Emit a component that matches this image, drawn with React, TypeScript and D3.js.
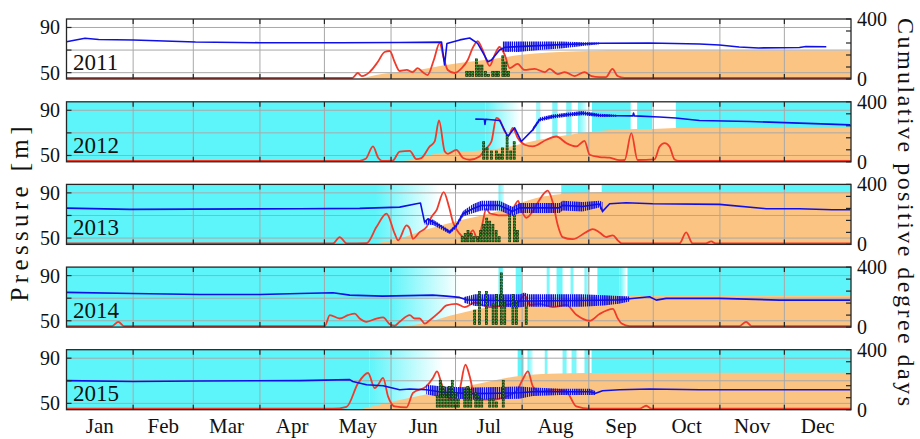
import React from 'react';
import * as d3 from 'd3';

// ---------- data ----------
const YEARS = ['2011', '2012', '2013', '2014', '2015'];
const MONTHS = ['Jan', 'Feb', 'Mar', 'Apr', 'May', 'Jun', 'Jul', 'Aug', 'Sep', 'Oct', 'Nov', 'Dec'];
const MONTH_START = [0, 31, 59, 90, 120, 151, 181, 212, 243, 273, 304, 334, 365];
const LEFT_TICKS = [50, 70, 90];
const LEFT_LABELS = [50, 90];
const RIGHT_TICKS = [0, 80, 160, 240, 320, 400];
const RIGHT_LABELS = [0, 400];

// pressure [day, m]
const BLUE_2011: [number, number][] = [[0,77.4],[8.6,80.4],[15,79.3],[31,78.9],[60,77.1],[90,76.5],[127,76.5],[155,76.7],[174.5,77],[175.9,56.8],[177,75.8],[178.3,76.5],[183,79],[187.6,80.7],[191.3,76],[194.4,65.6],[196,59.7],[197.6,61],[201.5,70.1],[204,72.5],[215,73.5],[230,74.8],[248,76],[271,76.3],[294.5,75.4],[303.8,74.5],[313,72.7],[322,71.9],[341,72.3],[344,73.2],[353.5,73]];
const BAND_2011: [number, number, number][] = [[203,68.5,77.5],[210,68.3,77.6],[220,70,77.6],[230,71.5,77.6],[240,73.5,77],[248,75.2,76.8]];
const BLUE_2012: [number, number][] = [[190.2,82.2],[194.4,82],[194.7,77.5],[195,82],[201.5,81],[205.3,66.8],[208.5,74.5],[211.6,62.4],[216.9,72.7],[220.1,81.6],[226.2,84.5],[232.7,86],[240.1,87.5],[248,85.5],[255.9,85.1],[263.5,85],[263.8,87.5],[264.2,85],[275.9,84],[283.4,83.1],[294.5,81],[317.8,80.1],[341,78.6],[364.7,77.1]];
const BAND_2012: [number, number, number][] = [[216.9,71,74.5],[220.1,80,83.5],[226.2,82.7,86.3],[232.7,84.2,87.8],[240.1,85.7,89.3],[248,84,87],[256,84.2,86]];
const BLUE_2013: [number, number][] = [[0,76.5],[29.5,75.4],[108.5,76],[136.4,76.3],[155,77.4],[162.8,80.4],[164.7,81],[166.6,64.1],[168.2,67.1],[170.5,64.1],[173.6,61.2],[178.3,55.3],[181.4,61.2],[184.5,71.6],[189,76],[193,78.9],[201.5,78.9],[207.6,73.6],[210.8,76.7],[229.4,76.7],[230.8,78.9],[240.1,78],[248,80.2],[249.4,73.6],[252.7,80.4],[260.4,81.3],[272.7,80.4],[303.8,79.8],[325.5,76],[341,76],[356.3,75.1],[364.7,75.1]];
const BAND_2013: [number, number, number][] = [[166.6,62,66],[170.5,61.5,66.5],[178.3,53.5,57],[181.4,59,63],[184.5,69,74],[189,72,80],[193,74.5,83],[201.5,74.5,83],[207.6,69.5,77.5],[210.8,72.3,81],[229.4,72.3,81],[230.8,74.5,83],[240.1,73.6,82],[248,77,83],[249.4,72,82]];
const BLUE_2014: [number, number][] = [[0,75.1],[30.9,74.2],[62,73.3],[90,73.3],[108.5,74.2],[124,74.8],[131.8,72.7],[147.1,71.8],[170.4,72.7],[176.8,71.8],[182.9,70.7],[186,68.5],[200,68],[211,67.5],[240,68],[257,68.5],[262,69.5],[271.3,71.2],[274.4,68.3],[279,69.8],[303.8,69.8],[331.7,68.3],[364.7,68.3]];
const BAND_2014: [number, number, number][] = [[185,66,71],[190,63,73.5],[200,62.5,73.5],[211,62,73.5],[213,62.5,75],[215,62.5,73.5],[240,62.5,73.5],[250,63.5,72.5],[257,65,72],[262,67,71.5]];
const BLUE_2015: [number, number][] = [[0,70.1],[30.9,69.4],[62,69.8],[108.5,70.1],[131.8,71],[133.2,69.4],[139.6,66.5],[147.3,65.6],[155,62.1],[159.7,62.7],[167.4,62.1],[175,59.9],[189,58.6],[210.8,59.4],[216.9,60.3],[243.4,60.3],[246.2,59],[249.4,61.2],[257.3,62.1],[271.3,62.7],[294.5,62.1],[364.7,62.1]];
const BAND_2015: [number, number, number][] = [[167.4,58,66.5],[175,55,65],[189,53.3,64],[210.8,54,65],[216.9,56.5,64],[230,57.5,63],[243.4,57.5,63],[246,57.5,61]];

// red series [day, m-scale]
const RED_2011: [number, number][] = [[0,45.3],[133,45.3],[135.5,49.7],[137.4,47],[141,50.5],[144.8,59.4],[148,68.3],[150.4,69.2],[152.7,59.4],[155,51.5],[158.3,52.4],[161,50.5],[163.4,54],[165.7,50.5],[168,47.9],[170.9,61.2],[173.6,76.2],[175.5,62.9],[177.4,52.4],[180.6,49.7],[183.9,54],[186.7,61.2],[189,71.9],[191.3,78],[193.6,70.1],[196.9,56],[199.2,65.8],[201.5,72.7],[203.9,65.8],[206.2,54],[209.9,57.7],[213.1,52.4],[217.8,53.3],[222.5,50.5],[224.8,53.3],[228.5,48.8],[231.8,50.5],[236.4,47],[241,50.5],[244.3,47],[248,46.1],[251,46.1],[254,53.3],[256.4,47],[259.6,45.3],[365,45.3]];
const RED_2012: [number, number][] = [[0,45.3],[136.4,45.3],[139.2,47],[142.6,58],[145,48],[146.7,45.3],[151.8,45.5],[155,53.5],[159.7,54.1],[162.8,46.8],[165.1,47.7],[169,58],[171.3,62.4],[173.3,81],[176,53.5],[177.5,51.5],[181.4,55],[184.5,47.7],[187.6,46.2],[192.2,49.1],[194.6,55],[197.7,62.4],[200,83.3],[201.5,81.6],[203.9,71.2],[205.7,67.4],[207.6,74.5],[209.9,65.6],[213.2,59.5],[216.9,58],[223.3,63.9],[227.9,66.8],[232.5,61],[237.2,58],[241,63],[243.4,50.6],[248,48.6],[252.7,48],[257.3,45.8],[259.7,46],[262.8,69.8],[265.7,46],[273.6,46.5],[275.9,57.7],[278.3,61],[280.6,57.7],[282.9,46.5],[285,45.3],[365,45.3]];
const RED_2013: [number, number][] = [[0,45.3],[124,45.3],[127.1,50.9],[130.4,45.3],[139.6,45.5],[144.2,59.7],[148.9,71.6],[152.7,53.9],[154.3,48],[158.2,61.2],[159.7,58.3],[161.2,49.4],[164.3,55.3],[167.5,59.7],[169.8,68.6],[172.1,74.5],[175.5,90.7],[178,77.4],[179.8,64.1],[182.9,53.9],[186,49.4],[189.1,56.8],[191.4,48],[193.5,62.7],[195.3,76],[196.9,72],[199.2,71],[201.5,70],[204.7,70],[207,72.7],[210.1,83],[211.6,75],[214,68],[217,74],[220.1,84],[223.9,92],[226.2,82],[228.5,62],[230.8,50.9],[235.5,49],[241.8,55.3],[244.8,58],[248,55],[251.1,50.9],[254.2,52.4],[256.5,48],[258.3,45.3],[285.2,45.3],[288.3,55],[291.3,45.3],[297.4,45.3],[300,47],[302,45.3],[365,45.3]];
const RED_2014: [number, number][] = [[0,45.3],[21.2,45.3],[24.1,49.1],[26.7,45.3],[120.2,45.3],[122.5,55],[127.1,52],[131,55],[134.1,56.4],[136.4,52],[139.6,49.1],[144.2,52],[147.3,53],[150.4,47],[152.7,45.6],[155,49.1],[159.7,55],[162,52],[164.3,52],[166.7,47.5],[169,50.5],[173.6,57.8],[176.8,63.7],[181.4,65],[185.3,62],[189.9,66],[196.9,62],[203.9,64],[209.9,66],[213.2,72.7],[215.5,64],[220.1,65],[226.2,62],[232.5,64],[237.2,55.3],[243.4,50],[248,56],[254.2,60.5],[256.5,52],[258.3,47.5],[261.9,45.3],[313.1,45.3],[316.2,49.1],[318.7,45.3],[365,45.3]];
const RED_2015: [number, number][] = [[0,45.3],[124,45.3],[130.3,47],[135.7,68],[140.3,76.9],[143.4,63.6],[145,66.5],[147.3,72.5],[149.6,56.2],[152.7,47.3],[158.2,46.5],[161.2,59.2],[167.4,65],[170.5,72.5],[172.4,78.3],[174.4,68],[176.8,56.2],[179.8,53.3],[182.9,62.1],[185.6,84.2],[187.6,73.9],[189.9,56.2],[193,53.3],[198.4,53.3],[204.6,56.2],[209.3,60.6],[212.2,71],[214.7,78.3],[217,65],[220.1,60.6],[227.9,62.1],[232.5,60.6],[237.2,47.3],[243.4,45.3],[266.6,45.3],[269.7,47.9],[272.2,45.3],[365,45.3]];

// cumulative positive degree days [day, value]
const PDD_2011: [number, number][] = [[136,0],[144,27],[155,47],[169,73],[175,90],[187.6,115],[201.5,140],[210.8,160],[224.8,177],[238.7,185],[248,189],[257,190],[365,190]];
const PDD_2012: [number, number][] = [[150.4,0],[159.7,10],[173.6,58],[187.6,70],[201.5,89],[220,147],[238.7,191],[257.3,215],[265,218],[272.7,219],[283.4,225],[365,226]];
const PDD_2013: [number, number][] = [[139.6,0],[151.8,27],[167.5,100],[181.4,155],[192.2,190],[201.5,225],[210.8,275],[220.1,315],[229.4,335],[243.4,347],[252.7,349],[365,350]];
const PDD_2014: [number, number][] = [[155,0],[169,35],[178.3,75],[189,113],[201.5,140],[216.9,170],[229.4,190],[248,203],[262,207],[365,207]];
const PDD_2015: [number, number][] = [[135.9,0],[155,65],[173.6,120],[192.2,175],[210.8,225],[224.8,240],[243.4,245],[365,247]];

// cover periods [startDay, endDay, startOpacity, endOpacity]
const COVER_2011: [number, number, number, number][] = [];
const COVER_2012: [number, number, number, number][] = [[0,195,1,1],[195,211,1,0],[218.5,220.5,0.6,0.6],[226,228.5,0.8,0.8],[232.5,235,0.8,0.8],[238,242,0.9,0.2],[244.5,262.5,1,1],[265.5,272.5,1,1],[283.5,365,1,1]];
const COVER_2013: [number, number, number, number][] = [[0,144,1,1],[144,173.6,1,0],[201,203.5,0.9,0.3],[230.2,243.4,1,1],[249,365,1,1]];
const COVER_2014: [number, number, number, number][] = [[0,150.4,1,1],[150.4,182.9,1,0],[201,203,0.9,0.9],[209,211.8,0.9,0.9],[223.4,224.8,0.8,0.8],[228,230.8,0.9,0.9],[234.5,235.9,0.8,0.8],[241,243.4,0.9,0.3],[247,257.3,1,1],[257.3,260.5,1,0.1],[261,365,1,1]];
const COVER_2015: [number, number, number, number][] = [[0,141,1,1],[141,175.1,1,0],[209.9,212.7,1,1],[214.5,216.9,0.9,0.3],[222.5,223.8,0.8,0.8],[230.8,232.7,0.8,0.8],[235,237.3,0.8,0.8],[241,243.4,0.9,0.9],[244.3,365,1,1]];

// event counts [day, count]
const EVENTS_2011: [number, number][] = [[186.2,2],[187.6,2],[189,2],[190.7,6],[192,4],[193.3,4],[195,2],[196.4,1],[198.3,2],[199.7,2],[201,2],[203,7],[204.3,5],[205.7,2]];
const EVENTS_2012: [number, number][] = [[194.1,6],[195.7,4],[197.8,3],[200,3],[201.5,2],[202.9,4],[205,8],[206.7,3],[208.3,6]];
const EVENTS_2013: [number, number][] = [[184.1,2],[185.5,3],[186.8,4],[188.3,3],[189.6,2],[191.3,2],[192.7,4],[194.1,6],[195.5,8],[196.9,7],[198.4,6],[199.9,4],[201.3,2],[206.2,9],[208.5,9],[209.9,4]];
const EVENTS_2014: [number, number][] = [[189.9,5],[192.2,11],[195.4,11],[198.5,7],[200,10],[202.3,17],[203.9,8],[207.7,10],[209.3,8],[213.9,6]];
const EVENTS_2015: [number, number][] = [[172.5,4],[173.9,9],[175.3,7],[176.7,5],[178.1,7],[179.5,9],[180.9,5],[182.3,3],[185.3,6],[186.7,7],[188.1,6],[190.4,5],[191.8,4],[193.2,3],[196.9,3],[198.5,3],[200.1,2],[203.2,9]];

const PANELS = [
  { label: YEARS[0], blue: BLUE_2011, band: BAND_2011, red: RED_2011, pdd: PDD_2011, cover: COVER_2011, events: EVENTS_2011 },
  { label: YEARS[1], blue: BLUE_2012, band: BAND_2012, red: RED_2012, pdd: PDD_2012, cover: COVER_2012, events: EVENTS_2012 },
  { label: YEARS[2], blue: BLUE_2013, band: BAND_2013, red: RED_2013, pdd: PDD_2013, cover: COVER_2013, events: EVENTS_2013 },
  { label: YEARS[3], blue: BLUE_2014, band: BAND_2014, red: RED_2014, pdd: PDD_2014, cover: COVER_2014, events: EVENTS_2014 },
  { label: YEARS[4], blue: BLUE_2015, band: BAND_2015, red: RED_2015, pdd: PDD_2015, cover: COVER_2015, events: EVENTS_2015 },
];

// ---------- layout ----------
const W = 920, H = 439;
const X0 = 66.5, X1 = 851;
const PH = 60;
const TOPS = [19, 101.8, 184.4, 267.1, 349.7];
const FONT = 'Liberation Serif, Times New Roman, DejaVu Serif, serif';
const CYAN = '#5ef5fa';
const ORANGE = '#fbc482';
const RED = '#f03a2a';
const BLUE = '#1010e6';
const GRID = '#a8a8a8';
const AX = '#262626';
const TXT: React.CSSProperties = { fontFamily: FONT };

export default function App() {
  const x = d3.scaleLinear().domain([0, 365]).range([X0, X1]);
  const monthMid = MONTHS.map((_, i) => (MONTH_START[i] + MONTH_START[i + 1]) / 2);

  return (
    <svg width={W} height={H} style={{ position: 'absolute', left: 0, top: 0, background: '#fff', fontFamily: FONT }}>
      <defs>
        <pattern id="noise" patternUnits="userSpaceOnUse" width={2.15} height={6}>
          <rect x={0} y={0} width={1.5} height={6} fill={BLUE} />
        </pattern>
        {PANELS.map((p, pi) => (
          <clipPath id={`clip${pi}`} key={`c${pi}`}>
            <rect x={X0} y={TOPS[pi]} width={X1 - X0} height={PH} />
          </clipPath>
        ))}
        {PANELS.map((p, pi) =>
          p.cover.map((c, ci) => (
            <linearGradient id={`g${pi}_${ci}`} key={`g${pi}_${ci}`} x1="0" x2="1" y1="0" y2="0">
              <stop offset="0" stopColor={CYAN} stopOpacity={c[2]} />
              <stop offset="1" stopColor={CYAN} stopOpacity={c[3]} />
            </linearGradient>
          ))
        )}
      </defs>
      {PANELS.map((p, pi) => {
        const top = TOPS[pi];
        const bot = top + PH;
        const yL = d3.scaleLinear().domain([44.4, 97.5]).range([bot, top]);
        const yR = d3.scaleLinear().domain([0, 400]).range([bot, top]);
        const yE = d3.scaleLinear().domain([0, 1]).range([bot - 3.6, bot - 6.7]);
        const blueLine = d3.line<[number, number]>().x(d => x(d[0])).y(d => yL(d[1]));
        const band = d3.area<[number, number, number]>().x(d => x(d[0])).y0(d => yL(d[1])).y1(d => yL(d[2]));
        const redLine = d3.line<[number, number]>().x(d => x(d[0])).y(d => yL(d[1])).curve(d3.curveMonotoneX);
        const pddArea = d3.area<[number, number]>().x(d => x(d[0])).y0(yR(0)).y1(d => yR(d[1])).curve(d3.curveMonotoneX);
        return (
          <g key={pi}>
            <rect x={X0} y={top} width={X1 - X0} height={PH} fill="#fff" />
            <g clipPath={`url(#clip${pi})`}>
              {p.cover.map((c, ci) => (
                <rect key={ci} x={x(c[0])} y={top} width={Math.max(0.5, x(c[1]) - x(c[0]))} height={PH}
                  fill={c[2] === c[3] ? CYAN : `url(#g${pi}_${ci})`} fillOpacity={c[2] === c[3] ? c[2] : 1} />
              ))}
              <path d={pddArea(p.pdd) || ''} fill={ORANGE} />
              {MONTH_START.slice(1, 12).map((m, i) => (
                <line key={`v${i}`} x1={x(m)} x2={x(m)} y1={top} y2={bot} stroke={GRID} strokeWidth={1} />
              ))}
              {LEFT_TICKS.map((t, i) => (
                <line key={`h${i}`} x1={X0} x2={X1} y1={yL(t)} y2={yL(t)} stroke={GRID} strokeWidth={1} />
              ))}
              <path d={redLine(p.red) || ''} fill="none" stroke={RED} strokeWidth={1.8} strokeLinejoin="round" />
              <path d={band(p.band) || ''} fill="url(#noise)" />
              <path d={blueLine(p.blue) || ''} fill="none" stroke={BLUE} strokeWidth={1.6} strokeLinejoin="round" />
              {p.events.map((e, ei) =>
                d3.range(e[1]).map(k => (
                  <rect key={`e${ei}_${k}`} x={x(e[0]) - 1} y={yE(k) - 1} width={2} height={2}
                    fill="#35a835" stroke="#063006" strokeWidth={0.7} />
                ))
              )}
            </g>
            {MONTH_START.slice(1, 12).map((m, i) => (
              <g key={`t${i}`}>
                <line x1={x(m)} x2={x(m)} y1={top} y2={top + 5} stroke={AX} strokeWidth={1.2} />
                <line x1={x(m)} x2={x(m)} y1={bot - 5} y2={bot} stroke={AX} strokeWidth={1.2} />
              </g>
            ))}
            {LEFT_TICKS.map((t, i) => (
              <line key={`lt${i}`} x1={X0} x2={X0 + 5} y1={yL(t)} y2={yL(t)} stroke={AX} strokeWidth={1.2} />
            ))}
            {RIGHT_TICKS.map((t, i) => (
              <line key={`rt${i}`} x1={X1 - 5} x2={X1} y1={yR(t)} y2={yR(t)} stroke={AX} strokeWidth={1.2} />
            ))}
            <rect x={X0} y={top} width={X1 - X0} height={PH} fill="none" stroke={AX} strokeWidth={1.3} />
            {LEFT_LABELS.map((t, i) => (
              <text key={`ll${i}`} style={TXT} x={60} y={yL(t)} dy="0.35em" textAnchor="end" fontSize={20} fill="#111">{t}</text>
            ))}
            {RIGHT_LABELS.map((t, i) => (
              <text key={`rl${i}`} style={TXT} x={857} y={yR(t)} dy="0.35em" textAnchor="start" fontSize={20} fill="#111">{t}</text>
            ))}
            <text style={TXT} x={73} y={top + 51} fontSize={23} fill="#111">{p.label}</text>
          </g>
        );
      })}
      {MONTHS.map((m, i) => (
        <text key={m} style={TXT} x={x(monthMid[i])} y={433} textAnchor="middle" fontSize={21} fill="#111">{m}</text>
      ))}
      <text style={TXT} transform="translate(28,214) rotate(-90)" textAnchor="middle" fontSize={25} fill="#111"
        textLength={175} lengthAdjust="spacing">Pressure [m]</text>
      <text style={TXT} transform="translate(898,212) rotate(90)" textAnchor="middle" fontSize={24} fill="#111"
        textLength={388} lengthAdjust="spacing">Cumulative positive degree days</text>
    </svg>
  );
}
